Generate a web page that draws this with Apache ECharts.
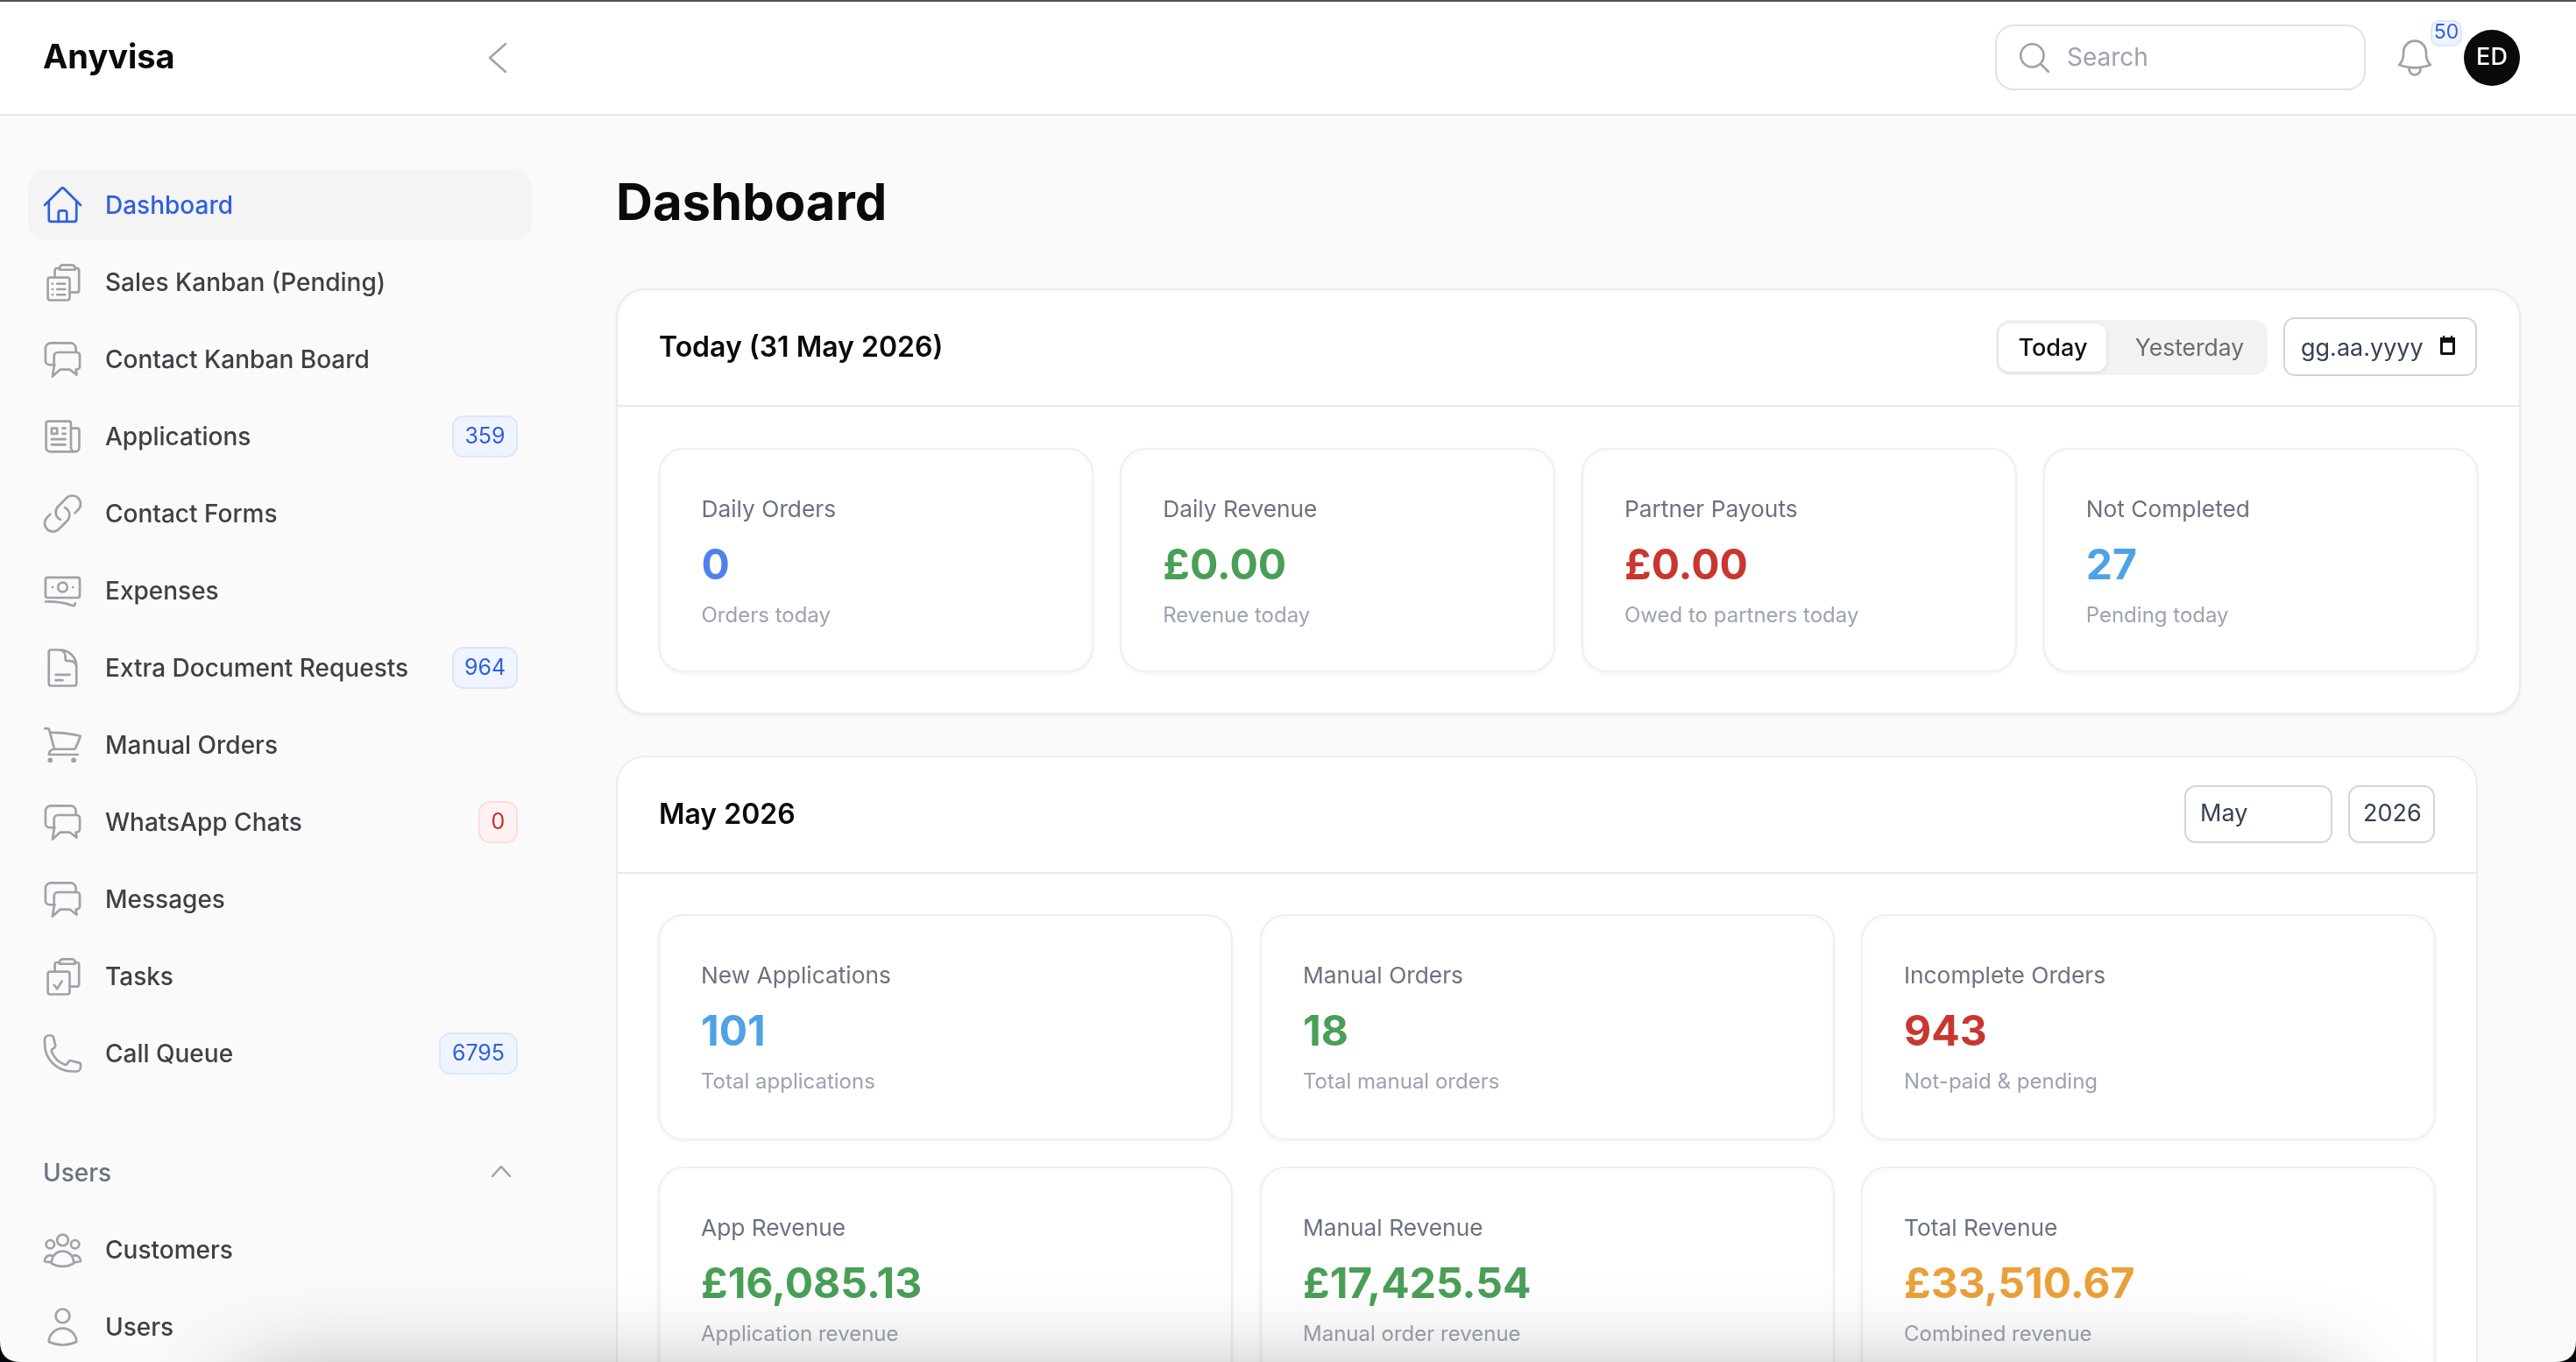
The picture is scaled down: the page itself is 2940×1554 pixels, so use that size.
<!DOCTYPE html>
<html>
<head>
<meta charset="utf-8">
<title>Anyvisa Dashboard</title>
<script src="https://cdn.jsdelivr.net/npm/echarts@6/dist/echarts.min.js"></script>
<style>
html,body{margin:0;padding:0;background:#fafafa;}
#main{width:2940px;height:1554px;}
</style>
</head>
<body>
<div id="main"></div>
<script>
// sidebar
var navLabels = ["Dashboard","Sales Kanban (Pending)","Contact Kanban Board","Applications","Contact Forms","Expenses","Extra Document Requests","Manual Orders","WhatsApp Chats","Messages","Tasks","Call Queue"];
var navBadges = ["","","","359","","","964","","0","","","6795"];
var navIcons = ["home","clip","chat","news","link","money","doc","cart","chat","chat","check","phone"];
var userLabels = ["Customers","Users"];
var userIcons = ["people","user"];

// today
var todayTitle = "Today (31 May 2026)";
var todayLabels = ["Daily Orders","Daily Revenue","Partner Payouts","Not Completed"];
var todayValues = ["0","£0.00","£0.00","27"];
var todaySubs = ["Orders today","Revenue today","Owed to partners today","Pending today"];
var todayColors = ["#4f80ee","#4a9f57","#c8372f","#4ea3e6"];

// month
var monthTitle = "May 2026";
var monthLabels = ["New Applications","Manual Orders","Incomplete Orders","App Revenue","Manual Revenue","Total Revenue"];
var monthValues = ["101","18","943","£16,085.13","£17,425.54","£33,510.67"];
var monthSubs = ["Total applications","Total manual orders","Not-paid & pending","Application revenue","Manual order revenue","Combined revenue"];
var monthColors = ["#4ea3e6","#4a9f57","#c8372f","#4a9f57","#4a9f57","#eba13a"];

// icon outlines, 24 unit box
var iconPaths = {
    home: "M2.25 12l8.954-8.955c.44-.439 1.152-.439 1.591 0L21.75 12M4.5 9.75v10.125c0 .621.504 1.125 1.125 1.125H9.75v-4.875c0-.621.504-1.125 1.125-1.125h2.25c.621 0 1.125.504 1.125 1.125V21h4.125c.621 0 1.125-.504 1.125-1.125V9.75M8.25 21h8.25",
    clip: "M4 9h11a1.5 1.5 0 0 1 1.5 1.5V22a1.5 1.5 0 0 1-1.5 1.5H4A1.5 1.5 0 0 1 2.5 22V10.5A1.5 1.5 0 0 1 4 9ZM7 9V4.5A1.5 1.5 0 0 1 8.5 3H10M16.5 18.5H21a1.5 1.5 0 0 0 1.5-1.5V4.5A1.5 1.5 0 0 0 21 3h-1M10 4V3a2 2 0 0 1 2-2h6a2 2 0 0 1 2 2v1ZM5.5 13h.1M8.5 13h5M5.5 16.5h.1M8.5 16.5h5M5.5 20h.1M8.5 20h5",
    check: "M4 9h11a1.5 1.5 0 0 1 1.5 1.5V22a1.5 1.5 0 0 1-1.5 1.5H4A1.5 1.5 0 0 1 2.5 22V10.5A1.5 1.5 0 0 1 4 9ZM7 9V4.5A1.5 1.5 0 0 1 8.5 3H10M16.5 18.5H21a1.5 1.5 0 0 0 1.5-1.5V4.5A1.5 1.5 0 0 0 21 3h-1M10 4V3a2 2 0 0 1 2-2h6a2 2 0 0 1 2 2v1ZM6.5 17.5l2 2.5 3-5",
    chat: "M7 15.5H3.5A2.5 2.5 0 0 1 1 13V5a3.5 3.5 0 0 1 3.5-3.5h12.5A3.5 3.5 0 0 1 20.500 5v2M10.500 7.500h10.500a2 2 0 0 1 2 2v7a2 2 0 0 1-2 2h-.5l.5 3.500-4.500-3.500h-6l-5 4.500 1-6.500V10a2.500 2.500 0 0 1 2.500-2.500Z",
    news: "M12 7.5h1.5m-1.5 3h1.5m-7.5 3h7.5m-7.5 3h7.5m3-9h3.375c.621 0 1.125.504 1.125 1.125V18a2.25 2.25 0 0 1-2.25 2.25M16.5 7.5V18a2.25 2.25 0 0 0 2.25 2.25M16.5 7.5V4.875c0-.621-.504-1.125-1.125-1.125H4.125C3.504 3.75 3 4.254 3 4.875V18a2.25 2.25 0 0 0 2.25 2.25h13.5M6 7.5h3v3H6v-3Z",
    link: "M13.19 8.688a4.5 4.5 0 0 1 1.242 7.244l-4.5 4.5a4.5 4.5 0 0 1-6.364-6.364l1.757-1.757m13.35-.622 1.757-1.757a4.5 4.5 0 0 0-6.364-6.364l-4.5 4.5a4.5 4.5 0 0 0 1.242 7.244",
    money: "M1 19c6-.2 11.500.5 17.500 2.500 1 .3 1.500-.3 1.500-1.500M2.500 3.500h19A1.500 1.500 0 0 1 23 5v10a1.500 1.500 0 0 1-1.500 1.500h-19A1.500 1.500 0 0 1 1 15V5a1.500 1.500 0 0 1 1.500-1.500ZM15 9.750a3 3 0 1 1-6 0 3 3 0 0 1 6 0ZM18.500 9.750h.1M5.500 9.750h.1",
    doc: "M19.5 14.25v-2.625a3.375 3.375 0 0 0-3.375-3.375h-1.5A1.125 1.125 0 0 1 13.5 7.125v-1.5a3.375 3.375 0 0 0-3.375-3.375H8.25M8.25 15.75h7.500M8.25 18.75H12M10.5 2.25H5.625c-.621 0-1.125.504-1.125 1.125v17.25c0 .621.504 1.125 1.125 1.125h12.75c.621 0 1.125-.504 1.125-1.125V11.25a9 9 0 0 0-9-9Z",
    cart: "M2.25 3h1.386c.51 0 .955.343 1.087.835l.383 1.437M7.5 14.25a3 3 0 0 0-3 3h15.75m-12.75-3h11.218c1.121-2.3 2.1-4.684 2.924-7.138a60.114 60.114 0 0 0-16.536-1.84M7.5 14.25 5.106 5.272M6 20.25a.75.75 0 1 1-1.5 0 .75.75 0 0 1 1.5 0Zm12.75 0a.75.75 0 1 1-1.5 0 .75.75 0 0 1 1.5 0Z",
    phone: "M2.25 6.75c0 8.284 6.716 15 15 15h2.25a2.25 2.25 0 0 0 2.25-2.25v-1.372c0-.516-.351-.966-.852-1.091l-4.423-1.106c-.44-.11-.902.055-1.173.417l-.97 1.293c-.282.376-.769.542-1.21.38a12.035 12.035 0 0 1-7.143-7.143c-.162-.441.004-.928.38-1.21l1.293-.97c.363-.271.527-.734.417-1.173L6.963 3.102a1.125 1.125 0 0 0-1.091-.852H4.5A2.25 2.25 0 0 0 2.25 4.5v2.25Z",
    people: "M18 18.72a9.094 9.094 0 0 0 3.741-.479 3 3 0 0 0-4.682-2.72m.94 3.198.001.031c0 .225-.012.447-.037.666A11.944 11.944 0 0 1 12 21c-2.17 0-4.207-.576-5.963-1.584A6.062 6.062 0 0 1 6 18.719m12 0a5.971 5.971 0 0 0-.941-3.197m0 0A5.995 5.995 0 0 0 12 12.75a5.995 5.995 0 0 0-5.058 2.772m0 0a3 3 0 0 0-4.681 2.72 8.986 8.986 0 0 0 3.74.477m.94-3.197a5.971 5.971 0 0 0-.94 3.197M15 6.75a3 3 0 1 1-6 0 3 3 0 0 1 6 0Zm6 2.25a2.25 2.25 0 1 1-4.5 0 2.25 2.25 0 0 1 4.5 0Zm-13.5 0a2.25 2.25 0 1 1-4.5 0 2.25 2.25 0 0 1 4.5 0Z",
    user: "M15.75 6a3.75 3.75 0 1 1-7.5 0 3.75 3.75 0 0 1 7.5 0ZM4.501 20.118a7.5 7.5 0 0 1 14.998 0A17.933 17.933 0 0 1 12 21.75c-2.676 0-5.216-.584-7.499-1.632Z",
    bell: "M14.857 17.082a23.848 23.848 0 0 0 5.454-1.31A8.967 8.967 0 0 1 18 9.75V9A6 6 0 0 0 6 9v.75a8.967 8.967 0 0 1-2.312 6.022c1.733.64 3.56 1.085 5.455 1.31m5.714 0a24.255 24.255 0 0 1-5.714 0m5.714 0a3 3 0 1 1-5.714 0",
    search: "m21 21-5.197-5.197m0 0A7.5 7.5 0 1 0 5.196 5.196a7.5 7.5 0 0 0 10.607 10.607Z",
    cornerL: "M0 0Q0 24 24 24L0 24Z",
    cornerR: "M24 0Q24 24 0 24L24 24Z"
};
for(var key in iconPaths){
    echarts.graphic.registerShape(key, echarts.graphic.extendPath(iconPaths[key], {}));
}
// hand drawn ones fill the box more than the others
var wideIcons = {clip: 1, check: 1, chat: 1, money: 1};

var FONT = "Inter, 'Noto Sans', sans-serif";
var els = [];

function box(x1, y1, x2, y2, r, fill, stroke, lw, shadow){
    lw = lw || 0;
    var style = {fill: fill, stroke: stroke || null, lineWidth: lw};
    if(shadow){
        style.shadowBlur = shadow[0];
        style.shadowOffsetY = shadow[1];
        style.shadowColor = shadow[2];
    }
    els.push({type: "rect", silent: true, shape: {x: x1 + lw / 2, y: y1 + lw / 2, width: x2 - x1 - lw, height: y2 - y1 - lw, r: r}, style: style});
}
function label(str, x, y, size, weight, color, align){
    els.push({type: "text", silent: true, x: x, y: y + 2, style: {
        text: str, fill: color, fontFamily: FONT, fontSize: size, fontWeight: weight,
        align: align || "left", textAlign: align || "left", verticalAlign: "middle", textVerticalAlign: "middle"
    }});
}
function icon(name, cx, cy, scale, color, lw){
    els.push({type: name, silent: true, x: cx - 12 * scale, y: cy - 12 * scale, scaleX: scale, scaleY: scale,
        style: {fill: "none", stroke: color, lineWidth: lw || 1.5, lineCap: "round", lineJoin: "round"}});
}
function navIcon(name, cy, color){
    var wide = wideIcons[name];
    icon(name, 71.5, cy, wide ? 1.78 : 2.1, color, wide ? 1.5 : 1.28);
}
function line(x1, y1, x2, y2, color, lw){
    els.push({type: "line", silent: true, shape: {x1: x1, y1: y1, x2: x2, y2: y2}, style: {stroke: color, lineWidth: lw}});
}
function chevron(pts, color, lw){
    els.push({type: "polyline", silent: true, shape: {points: pts}, style: {fill: "none", stroke: color, lineWidth: lw, lineCap: "round", lineJoin: "round"}});
}
function badge(str, x1, y1, x2, y2, red){
    box(x1, y1, x2, y2, 12, red ? "#fef3f2" : "#eff4ff", red ? "#fbdedc" : "#dbe7fe", 2);
    label(str, (x1 + x2) / 2, (y1 + y2) / 2 - 2, 25, 400, red ? "#c9302c" : "#2f5fe0", "center");
}
function tile(x1, y1, x2, y2, name, value, sub, color){
    box(x1, y1, x2, y2, 28, "#ffffff", "#f0f0f0", 2, [4, 2, "rgba(0,0,0,0.04)"]);
    label(name, x1 + 49, y1 + 69, 26.3, 400, "#6b7280");
    label(value, x1 + 49, y1 + 133.5, 48, 700, color);
    label(sub, x1 + 49, y1 + 190, 24, 400, "#9ca3af");
}

// top bar
box(0, 0, 2940, 131, 0, "#ffffff");
line(0, 131, 2940, 131, "#e8e8e8", 2);
box(0, 0, 2940, 2, 0, "#555555");
label("Anyvisa", 49, 65, 38, 700, "#0a0a0a");
chevron([[577, 50], [559, 66], [577, 82]], "#9ca3af", 2.5);
box(2277, 28, 2700, 103, 20, "#ffffff", "#e2e2e2", 2);
icon("search", 2322, 66, 1.75, "#a1a1aa", 1.5);
label("Search", 2359, 65, 28, 400, "#9ca3af");
icon("bell", 2756, 66, 2.15, "#a1a1aa", 1.25);
box(2774, 23, 2810, 53, 9, "#eef4ff", "#dbe7fe", 2);
label("50", 2792, 35, 23, 400, "#2f5fe0", "center");
els.push({type: "circle", silent: true, shape: {cx: 2844, cy: 66, r: 32}, style: {fill: "#0a0a0a"}});
label("ED", 2844, 64, 27, 500, "#ffffff", "center");

// sidebar
box(32, 194, 607, 274, 20, "#f4f4f4");
for(var i = 0; i < navLabels.length; i++){
    var ny = 234 + 88 * i;
    navIcon(navIcons[i], ny, i === 0 ? "#2f5fe0" : "#a1a1aa");
    label(navLabels[i], 120, ny, 28, 500, i === 0 ? "#2f5fe0" : "#3f3f46");
    if(navBadges[i] !== ""){
        var bw = 30 + navBadges[i].length * 15;
        badge(navBadges[i], 591 - bw, ny - 24, 591, ny + 24, navBadges[i] === "0");
    }
}
label("Users", 49, 1338, 28, 500, "#6b7280");
chevron([[562, 1342], [572, 1331], [582, 1342]], "#9ca3af", 2.5);
for(var u = 0; u < userLabels.length; u++){
    var uy = 1426 + 88 * u;
    navIcon(userIcons[u], uy, "#a1a1aa");
    label(userLabels[u], 120, uy, 28, 500, "#3f3f46");
}

// page title
label("Dashboard", 703, 232, 58, 700, "#0a0a0a");

// today card
box(703, 329, 2877, 815, 32, "#ffffff", "#ececec", 2, [4, 2, "rgba(0,0,0,0.05)"]);
line(704, 463, 2876, 463, "#e8e8e8", 2);
label(todayTitle, 752, 395, 32, 600, "#0a0a0a");
box(2278, 365, 2588, 428, 16, "#f2f2f2");
box(2281, 369, 2404, 424, 12, "#ffffff", null, 0, [4, 1, "rgba(0,0,0,0.12)"]);
label("Today", 2343, 396, 27, 500, "#111111", "center");
label("Yesterday", 2499, 396, 26.5, 400, "#6b6b6b", "center");
box(2606, 362, 2827, 429, 12, "#ffffff", "#d1d5db", 2);
label("gg.aa.yyyy", 2626, 396, 27, 400, "#374151");
box(2785, 387, 2802, 405, 1, "#ffffff", "#111111", 3);
box(2785, 385, 2802, 391, 0, "#111111");
box(2788, 383, 2790, 387, 0, "#111111");
box(2797, 383, 2799, 387, 0, "#111111");
for(var t = 0; t < todayLabels.length; t++){
    var tx = 751.5 + t * 526.75;
    tile(tx, 511, tx + 496.75, 767, todayLabels[t], todayValues[t], todaySubs[t], todayColors[t]);
}

// month card
box(703, 862, 2828, 1700, 32, "#ffffff", "#ececec", 2);
line(704, 996, 2827, 996, "#e8e8e8", 2);
label(monthTitle, 752, 928, 32, 600, "#0a0a0a");
box(2493, 896, 2662, 962, 12, "#ffffff", "#d1d5db", 2);
label("May", 2511, 927, 27, 400, "#374151");
box(2680, 896, 2779, 962, 12, "#ffffff", "#d1d5db", 2);
label("2026", 2697, 927, 27, 400, "#374151");
var monthX = [751, 1438, 2124];
var monthY = [1043, 1331];
for(var m = 0; m < monthLabels.length; m++){
    var mx = monthX[m % 3], my = monthY[Math.floor(m / 3)];
    tile(mx, my, mx + 656, my + 258, monthLabels[m], monthValues[m], monthSubs[m], monthColors[m]);
}

// window shadow and corners along the bottom edge
els.push({type: "rect", silent: true, shape: {x: 270, y: 1590, width: 2400, height: 100, r: 40},
    style: {fill: "#cccccc", shadowBlur: 120, shadowOffsetY: 0, shadowColor: "rgba(0,0,0,0.45)"}});
els.push({type: "cornerL", silent: true, x: 0, y: 1530, style: {fill: "#05050f"}});
els.push({type: "cornerR", silent: true, x: 2916, y: 1530, style: {fill: "#05050f"}});

var myChart = echarts.init(document.getElementById("main"), null, {renderer: "canvas"});
myChart.setOption({
    animation: false,
    backgroundColor: "#fafafa",
    graphic: {elements: els}
});
</script>
</body>
</html>
